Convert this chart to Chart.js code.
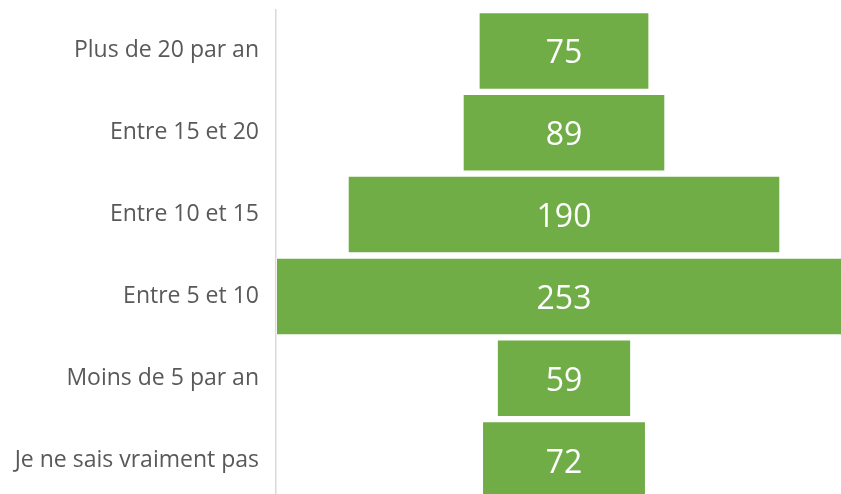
<!DOCTYPE html>
<html lang="fr">
<head>
<meta charset="utf-8">
<title>Entonnoir</title>
<script src="https://cdn.jsdelivr.net/npm/chart.js@4.4.1/dist/chart.umd.min.js"></script>
<style>
  html, body { margin: 0; padding: 0; background: #ffffff; overflow: hidden; }
  #wrap { width: 841px; height: 494px; overflow: hidden; position: relative; }
  #funnelChart { display: block; }
</style>
</head>
<body>
<div id="wrap">
  <canvas id="funnelChart" width="852" height="501"></canvas>
</div>
<script>
// Données
const categories = [
  'Plus de 20 par an',
  'Entre 15 et 20',
  'Entre 10 et 15',
  'Entre 5 et 10',
  'Moins de 5 par an',
  'Je ne sais vraiment pas'
];
const values = [75, 89, 190, 253, 59, 72];

const barColor = '#70ad47';
const halfMax = Math.max(...values) / 2;

// Barres flottantes centrées sur zéro pour l'effet entonnoir
const funnelData = values.map(v => [-v / 2, v / 2]);

// Étiquettes de valeur au centre de chaque barre
const centerLabels = {
  id: 'centerLabels',
  afterDatasetsDraw(chart) {
    const ctx = chart.ctx;
    const meta = chart.getDatasetMeta(0);
    ctx.save();
    ctx.fillStyle = '#ffffff';
    ctx.font = "32px 'Open Sans', sans-serif";
    ctx.textAlign = 'center';
    ctx.textBaseline = 'alphabetic';
    meta.data.forEach((bar, i) => {
      const cx = (bar.x + bar.base) / 2;
      ctx.fillText(String(values[i]), cx, bar.y + 12.5);
    });
    ctx.restore();
  }
};

new Chart(document.getElementById('funnelChart'), {
  type: 'bar',
  data: {
    labels: categories,
    datasets: [{
      data: funnelData,
      backgroundColor: barColor,
      borderColor: 'rgba(255, 255, 255, 0.35)',
      borderWidth: 1,
      borderSkipped: false,
      barPercentage: 0.948,
      categoryPercentage: 1
    }]
  },
  options: {
    indexAxis: 'y',
    responsive: false,
    animation: false,
    layout: { padding: { top: 10, right: 0, bottom: 0, left: 0 } },
    plugins: {
      legend: { display: false },
      tooltip: { enabled: false }
    },
    scales: {
      x: {
        display: false,
        min: -halfMax,
        max: halfMax
      },
      y: {
        afterFit(scale) {
          scale.width = 276;
          scale.paddingTop = 0;
          scale.paddingBottom = 0;
        },
        grid: { display: false, drawTicks: false },
        border: { display: true, color: '#d9d9d9', width: 1.5 },
        ticks: {
          padding: 17,
          color: '#595959',
          font: { family: "'Open Sans', sans-serif", size: 23 }
        }
      }
    }
  },
  plugins: [centerLabels]
});
</script>
</body>
</html>
